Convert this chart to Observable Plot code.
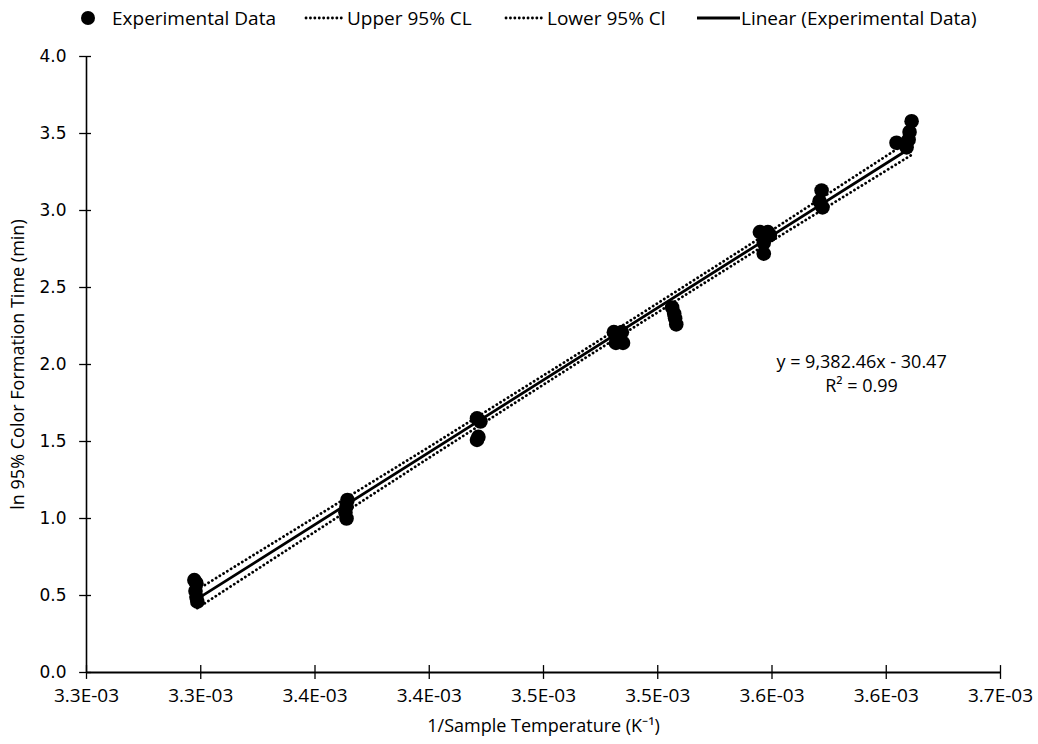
<!DOCTYPE html>
<html><head><meta charset="utf-8">
<script src="https://cdn.jsdelivr.net/npm/d3@7"></script>
<script src="https://cdn.jsdelivr.net/npm/@observablehq/plot@0.6"></script>
<style>
body{margin:0;background:#fff;}
#wrap{position:relative;width:1038px;}
#legend{position:relative;height:38px;width:1038px;font-family:"Open Sans",sans-serif;font-size:19px;color:#000}
#legend .t{position:absolute;top:0;line-height:36px;white-space:nowrap}
#legend svg{position:absolute;top:0;left:0}
</style></head><body>
<div id="wrap"><div id="legend"></div><div id="chart"></div></div>
<script>
// Experimental data (x = 1/T in K^-1, y = ln time)
const expX = [
  0.0032972,0.0032981,0.0032977,0.0032981,0.0032985,
  0.0033642,0.0033638,0.0033633,0.0033638,
  0.0034209,0.0034224,0.0034215,0.0034209,
  0.0034808,0.0034843,0.0034817,0.0034848,0.0034830,
  0.0035063,0.0035072,0.0035076,0.0035081,
  0.0035447,0.0035482,0.0035491,0.0035464,0.0035464,
  0.0035717,0.0035708,0.0035721,
  0.0036045,0.0036089,0.0036098,0.0036102,0.0036111
];
const expY = [
  0.60,0.58,0.53,0.49,0.46,
  1.12,1.08,1.04,1.00,
  1.65,1.63,1.53,1.51,
  2.21,2.21,2.14,2.14,2.17,
  2.37,2.33,2.30,2.26,
  2.86,2.86,2.84,2.79,2.72,
  3.13,3.06,3.02,
  3.44,3.41,3.46,3.51,3.58
];
// Linear trendline endpoints
const fitX = [0.0032985, 0.0036111];
const fitY = [0.478, 3.411];
// Confidence limits
const clX = [0.0032985, 0.0034000, 0.0034700, 0.0035400, 0.0036111];
const upperY = [0.538, 1.465, 2.115, 2.776, 3.461];
const lowerY = [0.418, 1.395, 2.059, 2.712, 3.361];
// Axis ticks
const xTicks = [0.00325,0.00330,0.00335,0.00340,0.00345,0.00350,0.00355,0.00360,0.00365];
const xTickLabels = ["3.3E-03","3.3E-03","3.4E-03","3.4E-03","3.5E-03","3.5E-03","3.6E-03","3.6E-03","3.7E-03"];
const yTicks = [0,0.5,1,1.5,2,2.5,3,3.5,4];
const yTickLabels = ["0.0","0.5","1.0","1.5","2.0","2.5","3.0","3.5","4.0"];
// Annotation
const eqText = ["y = 9,382.46x - 30.47", "R\u00B2 = 0.99"];
const eqX = [0.0035892, 0.0035892];
const eqY = [2.014, 1.858];
const xTitle = "1/Sample Temperature (K\u207B\u00B9)";
const yTitle = "ln 95% Color Formation Time (min)";
const legendLabels = ["Experimental Data","Upper 95% CL","Lower 95% Cl","Linear (Experimental Data)"];

const font = "'Open Sans',sans-serif";
const exp = expX.map((x,i)=>({x, y: expY[i]}));
const fit = fitX.map((x,i)=>({x, y: fitY[i]}));
const upper = clX.map((x,i)=>({x, y: upperY[i]}));
const lower = clX.map((x,i)=>({x, y: lowerY[i]}));
const eq = eqText.map((t,i)=>({t, x: eqX[i], y: eqY[i]}));
const xLab = d => xTickLabels[xTicks.findIndex(t => Math.abs(t-d) < 1e-9)];
const yLab = d => yTickLabels[yTicks.findIndex(t => Math.abs(t-d) < 1e-9)];
const dash = "0.1,4.3";

const chart = Plot.plot({
  width: 1038, height: 706,
  marginTop: 18, marginBottom: 72, marginLeft: 86, marginRight: 38,
  x: {domain: [0.00325, 0.00365]},
  y: {domain: [0, 4]},
  style: {background: "#fff", color: "#000"},
  marks: [
    Plot.axisX({ticks: xTicks, tickFormat: xLab, tickSize: 0, tickPadding: 16, fontSize: 19, fontFamily: font, label: null}),
    Plot.axisY({ticks: yTicks, tickFormat: yLab, tickSize: 0, tickPadding: 20, fontSize: 17, fontFamily: "DejaVu Sans", label: null}),
    Plot.ruleY([0], {stroke: "#000", strokeWidth: 1.8}),
    Plot.ruleX([0.00325], {stroke: "#000", strokeWidth: 1.6}),
    Plot.ruleX(xTicks, {x: d => d, y1: -0.045, y2: 0.045, stroke: "#000", strokeWidth: 1.3}),
    Plot.ruleY(yTicks, {y: d => d, x1: 0.00325 - 0.0000030, x2: 0.00325 + 0.0000022, stroke: "#000", strokeWidth: 1.3}),
    Plot.line(upper, {x: "x", y: "y", stroke: "#000", strokeWidth: 2.8, strokeDasharray: dash, strokeLinecap: "round"}),
    Plot.line(lower, {x: "x", y: "y", stroke: "#000", strokeWidth: 2.8, strokeDasharray: dash, strokeLinecap: "round"}),
    Plot.line(fit, {x: "x", y: "y", stroke: "#000", strokeWidth: 2.8}),
    Plot.dot(exp, {x: "x", y: "y", r: 7.3, fill: "#000", stroke: "none"}),
    Plot.text(eq, {x: "x", y: "y", text: "t", fontSize: 18, fontFamily: font, fill: "#000"}),
    Plot.text([xTitle], {frameAnchor: "bottom", dy: 59, fontSize: 18, fontFamily: font, fill: "#000"}),
    Plot.text([yTitle], {frameAnchor: "left", dx: -68, rotate: -90, textAnchor: "middle", fontSize: 18, fontFamily: font, fill: "#000"})
  ]
});
document.getElementById("chart").appendChild(chart);

// Legend
const lg = document.getElementById("legend");
const ns = "http://www.w3.org/2000/svg";
const sw = document.createElementNS(ns, "svg");
sw.setAttribute("width", 1038); sw.setAttribute("height", 38);
sw.innerHTML =
  '<circle cx="88" cy="18" r="7" fill="#000"/>' +
  '<line x1="306" x2="343" y1="18" y2="18" stroke="#000" stroke-width="2.8" stroke-linecap="round" stroke-dasharray="' + dash + '"/>' +
  '<line x1="506" x2="543" y1="18" y2="18" stroke="#000" stroke-width="2.8" stroke-linecap="round" stroke-dasharray="' + dash + '"/>' +
  '<line x1="697" x2="740" y1="18" y2="18" stroke="#000" stroke-width="2.8"/>';
lg.appendChild(sw);
const lefts = [112, 347, 547, 741];
legendLabels.forEach((s,i)=>{
  const d = document.createElement("div");
  d.className = "t"; d.style.left = lefts[i] + "px"; d.textContent = s;
  lg.appendChild(d);
});
</script>
</body></html>
